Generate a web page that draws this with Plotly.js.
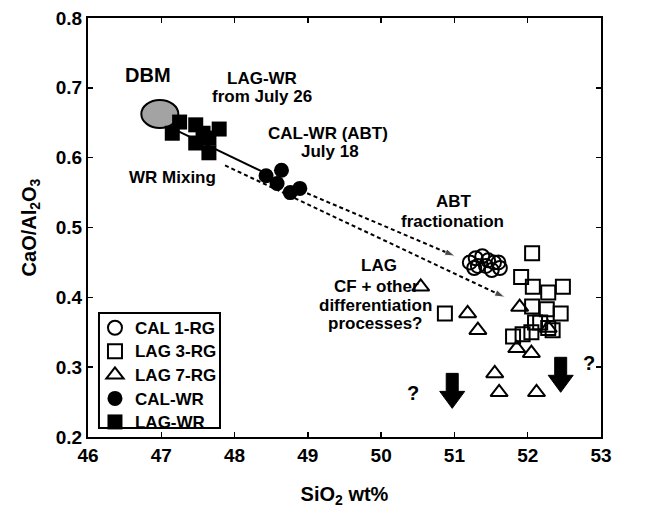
<!DOCTYPE html>
<html>
<head>
<meta charset="utf-8">
<script src="https://cdn.plot.ly/plotly-3.0.1.min.js"></script>
<style>html,body{margin:0;padding:0;background:#fff;}#chart{width:666px;height:522px;}</style>
</head>
<body>
<div id="chart"></div>
<script>
// ---- data (SiO2 wt%, CaO/Al2O3) ----
const calRG_x = [51.21, 51.29, 51.38, 51.46, 51.54, 51.62, 51.32, 51.43, 51.51, 51.27, 51.60];
const calRG_y = [0.450, 0.456, 0.459, 0.453, 0.450, 0.442, 0.445, 0.445, 0.439, 0.442, 0.450];

const lag3_x = [52.06, 51.91, 52.07, 52.28, 52.48, 52.06, 52.26, 52.45, 50.87, 52.10, 52.17, 52.34, 51.80, 51.93, 52.05, 52.28];
const lag3_y = [0.463, 0.429, 0.415, 0.407, 0.415, 0.387, 0.383, 0.377, 0.377, 0.364, 0.364, 0.353, 0.344, 0.347, 0.350, 0.356];

const lag7_x = [50.54, 51.18, 51.32, 51.89, 52.28, 51.85, 52.05, 51.55, 51.61, 52.12];
const lag7_y = [0.415, 0.377, 0.353, 0.386, 0.356, 0.327, 0.320, 0.291, 0.264, 0.264];

const calWR_x = [48.43, 48.64, 48.58, 48.76, 48.89];
const calWR_y = [0.574, 0.582, 0.563, 0.550, 0.556];

const lagWR_x = [47.25, 47.15, 47.47, 47.47, 47.65, 47.79, 47.65, 47.57];
const lagWR_y = [0.651, 0.635, 0.647, 0.621, 0.628, 0.641, 0.607, 0.635];

const dbm_x = [46.98];
const dbm_y = [0.6625];

const mixLine_x = [47.15, 48.48];
const mixLine_y = [0.642, 0.575];

const abtArrow_x = [48.99, 51.01];
const abtArrow_y = [0.549, 0.459];

const lagArrow_x = [47.87, 51.69];
const lagArrow_y = [0.589, 0.400];

const downArrow_x = [50.97, 52.45];
const downArrow_y = [0.241, 0.264];

const question_x = [50.43, 52.84];
const question_y = [0.263, 0.306];

const legendNames = ['CAL 1-RG', 'LAG 3-RG', 'LAG 7-RG', 'CAL-WR', 'LAG-WR'];

// ---- styling ----
const FONT = 'Liberation Sans, Arial, Helvetica, sans-serif';
const BLACK = '#000000';

function legName(s) { return '<span style="font-size:17px">' + s + '</span>'; }

const traces = [
  {x: mixLine_x, y: mixLine_y, mode: 'lines', line: {color: BLACK, width: 2}, showlegend: false, hoverinfo: 'skip'},
  {x: lagArrow_x, y: lagArrow_y, mode: 'lines+markers', line: {color: BLACK, width: 2, dash: '4px,3px'},
   marker: {symbol: 'arrow', size: [0, 11], angleref: 'previous', color: BLACK}, showlegend: false, hoverinfo: 'skip'},
  {x: abtArrow_x, y: abtArrow_y, mode: 'lines+markers', line: {color: BLACK, width: 2, dash: '4px,3px'},
   marker: {symbol: 'arrow', size: [0, 11], angleref: 'previous', color: BLACK}, showlegend: false, hoverinfo: 'skip'},
  {x: calRG_x, y: calRG_y, mode: 'markers', name: legName(legendNames[0]), legendrank: 1,
   marker: {symbol: 'circle-open', size: 14, color: BLACK, line: {width: 2, color: BLACK}}},
  {x: lag3_x, y: lag3_y, mode: 'markers', name: legName(legendNames[1]), legendrank: 2,
   marker: {symbol: 'square-open', size: 14, color: BLACK, line: {width: 2, color: BLACK}}},
  {x: lag7_x, y: lag7_y, mode: 'markers', name: legName(legendNames[2]), legendrank: 3,
   marker: {symbol: 'triangle-up-open', size: 15, color: BLACK, line: {width: 2, color: BLACK}}},
  {x: calWR_x, y: calWR_y, mode: 'markers', name: legName(legendNames[3]), legendrank: 4,
   marker: {symbol: 'circle', size: 15, color: BLACK}},
  {x: lagWR_x, y: lagWR_y, mode: 'markers', name: legName(legendNames[4]), legendrank: 5,
   marker: {symbol: 'square', size: 15, color: BLACK}}
];

const shapes = [];
// DBM ellipse
shapes.push({type: 'circle', xref: 'x', yref: 'y', xsizemode: 'pixel', ysizemode: 'pixel',
  xanchor: dbm_x[0], yanchor: dbm_y[0], x0: -18.5, x1: 18.5, y0: -14, y1: 14,
  fillcolor: '#a3a3a3', line: {color: BLACK, width: 2}, layer: 'below'});
// block down arrows
const arrowPath = 'M0,0 L-12.5,17 L-6,17 L-6,35 L6,35 L6,17 L12.5,17 Z';
for (let i = 0; i < downArrow_x.length; i++) {
  shapes.push({type: 'path', xref: 'x', yref: 'y', xsizemode: 'pixel', ysizemode: 'pixel',
    xanchor: downArrow_x[i], yanchor: downArrow_y[i], path: arrowPath,
    fillcolor: BLACK, line: {color: BLACK, width: 1}});
}
// legend frame
shapes.push({type: 'rect', xref: 'paper', yref: 'paper', x0: 0.0214, x1: 0.2573, y0: 0.0215, y1: 0.296,
  fillcolor: '#ffffff', line: {color: BLACK, width: 2}, layer: 'above'});

function lab(text, x, y, size) {
  return {text: text, x: x, y: y, xref: 'x', yref: 'y', showarrow: false,
    xanchor: 'center', yanchor: 'middle', font: {family: FONT, size: size || 17, color: BLACK, weight: 'bold'}};
}
const annotations = [
  lab('DBM', 46.82, 0.718, 20),
  lab('LAG-WR', 48.37, 0.714),
  lab('from July 26', 48.37, 0.687),
  lab('CAL-WR (ABT)', 49.27, 0.635),
  lab('July 18', 49.30, 0.609),
  lab('WR Mixing', 47.15, 0.571),
  lab('ABT', 51.00, 0.537),
  lab('fractionation', 50.98, 0.509),
  lab('LAG', 49.97, 0.445),
  lab('CF + other', 49.94, 0.416),
  lab('differentiation', 49.92, 0.389),
  lab('processes?', 49.92, 0.362)
];
for (let i = 0; i < question_x.length; i++) {
  annotations.push(lab('?', question_x[i], question_y[i], 20));
}

const axisCommon = {
  showline: true, linecolor: BLACK, linewidth: 2, mirror: 'ticks',
  ticks: 'inside', ticklen: 5, tickwidth: 1.5, tickcolor: BLACK,
  showgrid: false, zeroline: false,
  tickfont: {family: FONT, size: 19, color: BLACK, weight: 'bold'}
};

const layout = {
  width: 666, height: 522,
  margin: {l: 88, r: 65, t: 18, b: 85},
  paper_bgcolor: '#ffffff', plot_bgcolor: '#ffffff',
  font: {family: FONT, color: BLACK},
  xaxis: Object.assign({}, axisCommon, {range: [46, 53], dtick: 1, tick0: 46,
    title: {text: 'SiO<sub>2</sub> wt%', font: {family: FONT, size: 20, color: BLACK, weight: 'bold'}, standoff: 22}}),
  yaxis: Object.assign({}, axisCommon, {range: [0.2, 0.8], dtick: 0.1, tick0: 0.2, tickformat: '.1f',
    title: {text: 'CaO/Al<sub>2</sub>O<sub>3</sub>', font: {family: FONT, size: 20, color: BLACK, weight: 'bold'}, standoff: 14}}),
  showlegend: true,
  legend: {x: 0.0136, y: 0.3007, xanchor: 'left', yanchor: 'top',
    borderwidth: 0, bgcolor: 'rgba(0,0,0,0)',
    font: {family: FONT, size: 15.8, color: BLACK, weight: 'bold'},
    itemwidth: 30, tracegroupgap: 0, traceorder: 'normal'},
  shapes: shapes,
  annotations: annotations
};

Plotly.newPlot('chart', traces, layout, {displayModeBar: false, staticPlot: true});
</script>
</body>
</html>
